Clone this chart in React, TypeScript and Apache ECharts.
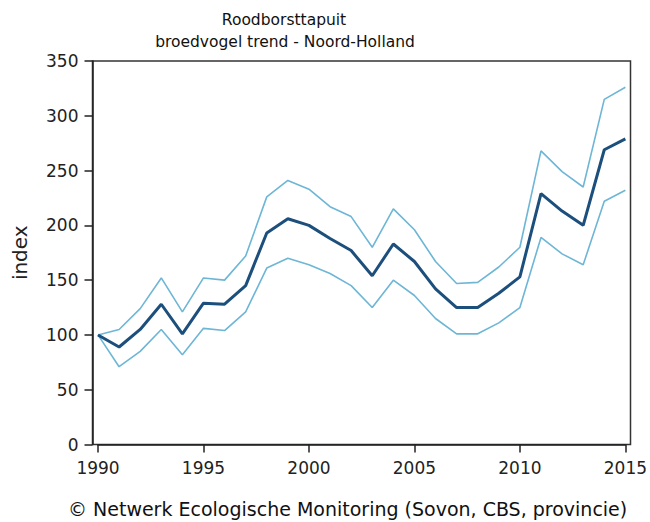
import React, { useEffect, useRef } from "react";
import * as echarts from "echarts";

const years = [1990,1991,1992,1993,1994,1995,1996,1997,1998,1999,2000,2001,2002,2003,2004,2005,2006,2007,2008,2009,2010,2011,2012,2013,2014,2015];
const indexValues = [100,89,105,128,101,129,128,145,193,206,200,188,177,154,183,167,142,125,125,138,153,229,213,200,269,279];
const upperValues = [100,105,124,152,121,152,150,172,226,241,233,217,208,180,215,196,167,147,148,162,180,268,249,235,315,326];
const lowerValues = [100,71,85,105,82,106,104,121,161,170,164,156,145,125,150,136,115,101,101,111,125,189,174,164,222,232];
const xTicks = [1990, 1995, 2000, 2005, 2010, 2015];
const titleLines = ["Roodborsttapuit", "broedvogel trend - Noord-Holland"];
const footer = "© Netwerk Ecologische Monitoring (Sovon, CBS, provincie)";

const FONT = "DejaVu Sans";

export default function App() {
  const ref = useRef<HTMLDivElement>(null);
  useEffect(() => {
    if (!ref.current) return;
    const chart = echarts.init(ref.current, null, { renderer: "svg" });
    const mk = (vals: number[]) => years.map((y, i) => [y, vals[i]]);
    chart.setOption({
      animation: false,
      grid: { left: 98, right: 24.5, top: 61, bottom: 77.5 },
      xAxis: {
        type: "value",
        min: 1990,
        max: 2015,
        interval: 5,
        splitLine: { show: false },
        axisLine: { show: true, lineStyle: { color: "#222", width: 1.5 } },
        axisTick: { show: true, length: 8, lineStyle: { color: "#222", width: 1.5 } },
        axisLabel: {
          margin: 15,
          color: "#222",
          fontFamily: FONT,
          fontSize: 17,
          formatter: (v: number) => (xTicks.includes(v) ? String(v) : ""),
        },
      },
      yAxis: {
        type: "value",
        min: 0,
        max: 350,
        interval: 50,
        offset: 5.5,
        name: "index",
        nameLocation: "middle",
        nameGap: 63,
        nameTextStyle: { color: "#222", fontFamily: FONT, fontSize: 20 },
        splitLine: { show: false },
        axisLine: { show: true, lineStyle: { color: "#222", width: 1.5 } },
        axisTick: { show: true, length: 8, lineStyle: { color: "#222", width: 1.5 } },
        axisLabel: { margin: 14, color: "#222", fontFamily: FONT, fontSize: 17 },
      },
      graphic: [
        {
          type: "rect",
          shape: { x: 92.5, y: 61, width: 538, height: 383.5 },
          style: { fill: "none", stroke: "#333", lineWidth: 1.5 },
          silent: true,
          z: 0,
        },
        {
          type: "text",
          x: 284,
          y: 20,
          style: { text: titleLines[0], fill: "#111", font: `15.5px "${FONT}"`, align: "center", verticalAlign: "middle" },
        },
        {
          type: "text",
          x: 285,
          y: 42,
          style: { text: titleLines[1], fill: "#111", font: `15.5px "${FONT}"`, align: "center", verticalAlign: "middle" },
        },
        {
          type: "text",
          x: 68,
          y: 509,
          style: { text: footer, fill: "#111", font: `19px "${FONT}"`, align: "left", verticalAlign: "middle" },
        },
      ],
      series: [
        {
          type: "line",
          data: mk(upperValues),
          symbol: "none",
          lineStyle: { color: "#6db6d6", width: 1.6 },
          z: 2,
        },
        {
          type: "line",
          data: mk(lowerValues),
          symbol: "none",
          lineStyle: { color: "#6db6d6", width: 1.6 },
          z: 2,
        },
        {
          type: "line",
          data: mk(indexValues),
          symbol: "none",
          lineStyle: { color: "#1d4f7c", width: 3 },
          z: 3,
        },
      ],
    });
    return () => chart.dispose();
  }, []);
  return <div ref={ref} style={{ width: 650, height: 522, position: "absolute", left: 0, top: 0 }} />;
}
